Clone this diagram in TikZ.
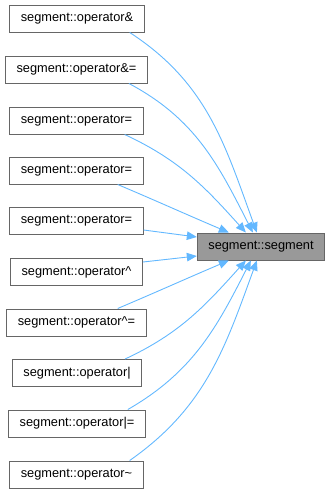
\documentclass[tikz,border=0pt]{standalone}
\usepackage{fontspec}
\setmainfont{Liberation Sans}
\usetikzlibrary{arrows.meta}
\definecolor{edgeblue}{HTML}{63B8FF}
\definecolor{boxline}{HTML}{666666}
\definecolor{boxfill}{HTML}{999999}
\tikzset{
  fnbox/.style={draw=boxline, fill=white, line width=1pt, minimum height=27pt,
    inner xsep=11pt, inner ysep=0pt, font=\fontsize{12.8}{15}\selectfont},
  mainbox/.style={fnbox, fill=boxfill},
  calledge/.style={draw=edgeblue, line width=0.9pt, -{Triangle[length=10pt,width=8.5pt]}}
}
\begin{document}
\begin{tikzpicture}[x=1pt,y=-1pt]
\useasboundingbox (0,0) rectangle (331,493);

% callers
\node[fnbox] (n1)  at (77,18.5)   {segment::operator\&};
\node[fnbox] (n2)  at (76.5,69.5) {segment::operator\&=};
\node[fnbox] (n3)  at (76.5,120.5){segment::operator=};
\node[fnbox] (n4)  at (76.5,170.5){segment::operator=};
\node[fnbox] (n5)  at (76.5,221)  {segment::operator=};
\node[fnbox] (n6)  at (76.5,272)  {segment::operator\^{}};
\node[fnbox] (n7)  at (76.5,322.5){segment::operator\^{}=};
\node[fnbox] (n8)  at (77,373)    {segment::operator|};
\node[fnbox] (n9)  at (77,423.5)  {segment::operator|=};
\node[fnbox] (n10) at (76.5,474.5){segment::operator\char`\~};

% callee
\node[mainbox] (c) at (261,246.5) {segment::segment};

% call edges
\draw[calledge] ([xshift=-15pt]n1.south east) to[out=-33,in=110] ([xshift=60pt]c.north west);
\draw[calledge] ([xshift=-19pt]n2.south east) to[out=-28,in=117] ([xshift=56pt]c.north west);
\draw[calledge] ([xshift=-19pt]n3.south east) to[out=-25,in=132] ([xshift=49pt]c.north west);
\draw[calledge] ([xshift=-26pt]n4.south east) to[out=-23,in=157] ([xshift=32pt]c.north west);
\draw[calledge] ([yshift=-9pt]n5.east) -- ([yshift=9.5pt]c.west);
\draw[calledge] ([yshift=10pt]n6.east) -- ([yshift=-9.5pt]c.west);
\draw[calledge] ([xshift=-29pt]n7.north east) to[out=23,in=-157] ([xshift=32pt]c.south west);
\draw[calledge] ([xshift=-17pt]n8.north east) to[out=25,in=-132] ([xshift=49pt]c.south west);
\draw[calledge] ([xshift=-18pt]n9.north east) to[out=30,in=-117] ([xshift=54pt]c.south west);
\draw[calledge] ([xshift=-14pt]n10.north east) to[out=35,in=-110] ([xshift=60pt]c.south west);
\end{tikzpicture}
\end{document}
